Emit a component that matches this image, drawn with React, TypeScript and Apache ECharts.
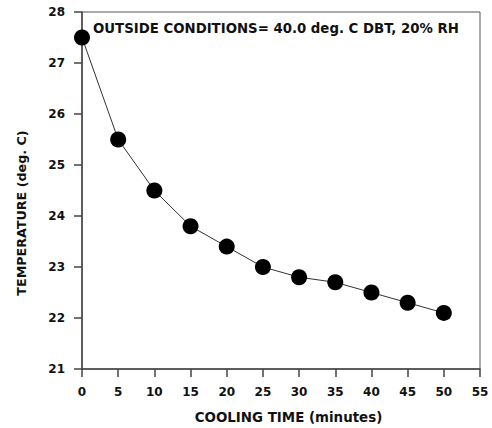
import React, { useEffect, useRef } from "react";
import * as echarts from "echarts";

const coolingTime = [0, 5, 10, 15, 20, 25, 30, 35, 40, 45, 50];
const temperature = [27.5, 25.5, 24.5, 23.8, 23.4, 23.0, 22.8, 22.7, 22.5, 22.3, 22.1];
const annotation = "OUTSIDE CONDITIONS= 40.0 deg. C DBT, 20% RH";
const xTitle = "COOLING TIME (minutes)";
const yTitle = "TEMPERATURE (deg. C)";

export default function App() {
  const ref = useRef<HTMLDivElement>(null);
  useEffect(() => {
    if (!ref.current) return;
    const chart = echarts.init(ref.current, null, { renderer: "svg" });
    const font = "'DejaVu Sans', sans-serif";
    chart.setOption({
      animation: false,
      backgroundColor: "#ffffff",
      grid: {
        left: 82,
        right: 12,
        top: 12,
        bottom: 59,
        show: true,
        borderColor: "#555",
        borderWidth: 1,
      },
      xAxis: {
        type: "value",
        min: 0,
        max: 55,
        interval: 5,
        axisLine: { show: true, lineStyle: { color: "#444", width: 1.5 } },
        axisTick: { show: true, length: 8, lineStyle: { color: "#444", width: 1.5 } },
        axisLabel: { fontFamily: font, fontWeight: "bold", fontSize: 12, color: "#111", margin: 17 },
        splitLine: { show: false },
      },
      yAxis: {
        type: "value",
        min: 21,
        max: 28,
        interval: 1,
        axisLine: { show: true, lineStyle: { color: "#444", width: 1.5 } },
        axisTick: { show: true, length: 8, lineStyle: { color: "#444", width: 1.5 } },
        axisLabel: { fontFamily: font, fontWeight: "bold", fontSize: 12, color: "#111", margin: 17 },
        splitLine: { show: false },
      },
      graphic: [
        {
          type: "text",
          left: 93,
          top: 22,
          style: {
            text: annotation,
            fontFamily: font,
            fontWeight: "bold",
            fontSize: 13.3,
            fill: "#111",
          },
        },
        {
          type: "text",
          x: 288.5,
          y: 417,
          style: {
            text: xTitle,
            fontFamily: font,
            fontWeight: "bold",
            fontSize: 13.4,
            fill: "#111",
            align: "center",
            verticalAlign: "middle",
          },
        },
        {
          type: "text",
          x: 21,
          y: 213,
          rotation: Math.PI / 2,
          style: {
            text: yTitle,
            fontFamily: font,
            fontWeight: "bold",
            fontSize: 12.7,
            fill: "#111",
            align: "center",
            verticalAlign: "middle",
          },
        },
      ],
      series: [
        {
          type: "line",
          data: coolingTime.map((t, i) => [t, temperature[i]]),
          symbol: "circle",
          symbolSize: 16,
          showSymbol: true,
          itemStyle: { color: "#000" },
          lineStyle: { color: "#333", width: 1 },
        },
      ],
    });
    return () => chart.dispose();
  }, []);
  return (
    <div
      ref={ref}
      style={{ position: "fixed", left: 0, top: 0, width: 492, height: 428 }}
    />
  );
}
